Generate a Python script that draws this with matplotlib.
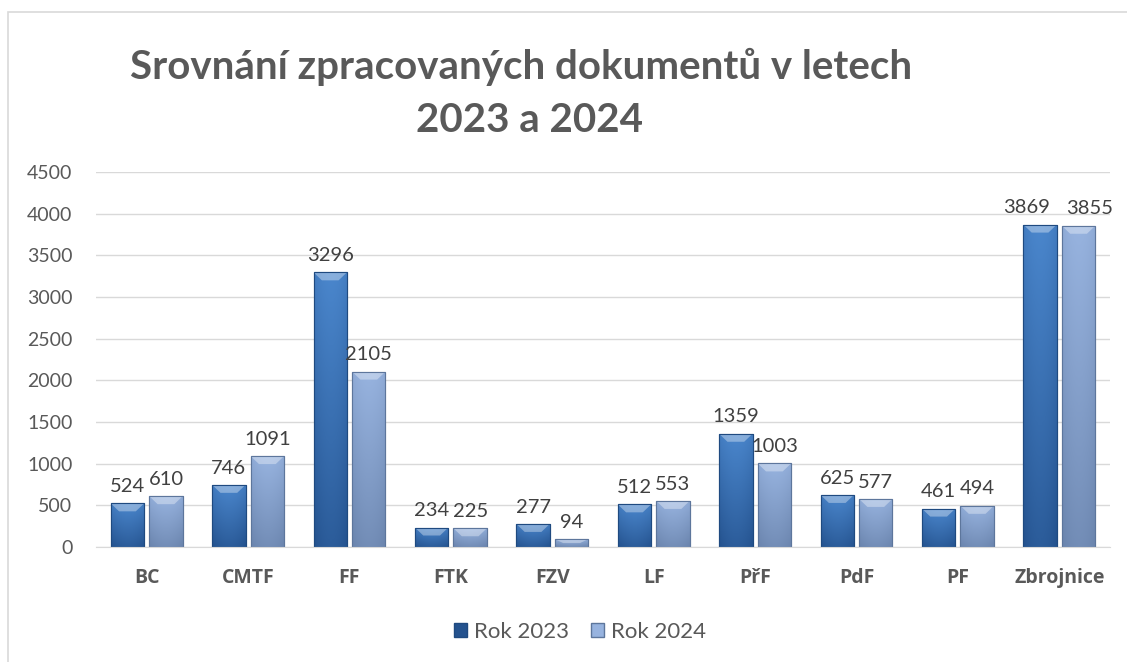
import matplotlib
matplotlib.use("Agg")
import matplotlib.pyplot as plt
import numpy as np
from matplotlib.colors import LinearSegmentedColormap
from matplotlib.patches import Patch, Polygon, Rectangle

# data
categories = ["BC", "CMTF", "FF", "FTK", "FZV", "LF", "PřF", "PdF", "PF", "Zbrojnice"]
rok_2023 = [524, 746, 3296, 234, 277, 512, 1359, 625, 461, 3869]
rok_2024 = [610, 1091, 2105, 225, 94, 553, 1003, 577, 494, 3855]
series_names = ["Rok 2023", "Rok 2024"]
y_ticks = [0, 500, 1000, 1500, 2000, 2500, 3000, 3500, 4000, 4500]

plt.rcParams['font.family'] = ['Lato', 'DejaVu Sans']

fig = plt.figure(figsize=(11.27, 6.62), dpi=100)
ax = fig.add_axes([96 / 1127, 115 / 662, 1014 / 1127, 375 / 662])

# chart frame (light grey border, left + top)
fig.patches.append(Rectangle((8 / 1127, -0.2), 1.2, 1.2 - 12 / 662,
                             transform=fig.transFigure, fill=False,
                             edgecolor="#d9d9d9", lw=1.2, zorder=0))

x = np.arange(len(categories))
w = 0.33
gap = 0.05

# colours: (top, bottom, edge)
styles = [
    ("#4a86cc", "#24528e", "#1f4a80"),
    ("#97b3df", "#6a84ad", "#5d769c"),
]

# gradient image, darker at edges and bottom
gy = np.linspace(0, 1, 64)[:, None]
gx = np.linspace(-1, 1, 32)[None, :]
grad = gy * 0.8 + 0.2 * (1 - gx ** 2)

bevel_px = 8
px_per_unit = 375 / 4500
bevel = bevel_px / px_per_unit

# labels that Excel pushed sideways so they do not collide (points)
label_dx = {("Zbrojnice", 0): -10, ("Zbrojnice", 1): 8}

for i, (vals, (ctop, cbot, cedge)) in enumerate(zip([rok_2023, rok_2024], styles)):
    offs = (-w / 2 - gap / 2) if i == 0 else (w / 2 + gap / 2)
    bars = ax.bar(x + offs, vals, width=w, color=cbot, edgecolor=cedge,
                  linewidth=0.8, zorder=2)
    cmap = LinearSegmentedColormap.from_list("g%d" % i, [cbot, ctop])
    for cat, b, v in zip(categories, bars, vals):
        x0 = b.get_x()
        x1 = x0 + b.get_width()
        im = ax.imshow(grad, extent=[x0, x1, 0, v], origin="lower", aspect="auto",
                       cmap=cmap, vmin=0, vmax=1, zorder=2.1)
        im.set_clip_path(b)
        # top bevel highlight
        bh = min(bevel, v * 0.5)
        bw = b.get_width() * 0.25
        ax.add_patch(Polygon([(x0, v), (x1, v), (x1 - bw, v - bh), (x0 + bw, v - bh)],
                             closed=True, facecolor="white", alpha=0.35,
                             edgecolor="none", zorder=2.2))
        ax.add_patch(Rectangle((x0, 0), b.get_width(), v, fill=False,
                               edgecolor=cedge, lw=0.8, zorder=2.3))
        ax.annotate(str(v), (b.get_x() + b.get_width() / 2, v),
                    xytext=(label_dx.get((cat, i), 0), 6), textcoords="offset points",
                    ha="center", va="bottom", fontsize=14.5, color="#404040")

ax.set_xlim(-0.5, len(categories) - 0.5)
ax.set_ylim(0, 4500)
ax.set_yticks(y_ticks)
ax.set_yticklabels([str(t) for t in y_ticks])
ax.yaxis.grid(True, color="#d9d9d9", lw=1)
ax.set_axisbelow(True)
ax.set_xticks(x)
ax.set_xticklabels(categories, fontweight="bold", family=["Open Sans", "DejaVu Sans"])
for s in ["top", "right", "left"]:
    ax.spines[s].set_visible(False)
ax.spines["bottom"].set_color("#d9d9d9")
ax.tick_params(axis="y", length=0, labelsize=14, labelcolor="#595959", pad=17)
ax.tick_params(axis="x", length=0, labelsize=14, labelcolor="#595959", pad=15)

fig.text(521 / 1127, 1 - 67 / 662, "Srovnání zpracovaných dokumentů v letech",
         ha="center", va="center", fontsize=29, fontweight="bold", color="#595959")
fig.text(529 / 1127, 1 - 121 / 662, "2023 a 2024",
         ha="center", va="center", fontsize=29, fontweight="bold", color="#595959")

handles = [Patch(facecolor=styles[0][1], edgecolor=styles[0][2]),
           Patch(facecolor=styles[1][0], edgecolor=styles[1][2])]
fig.legend(handles, series_names, loc="center", bbox_to_anchor=(580 / 1127, 1 - 632 / 662),
           ncol=2, frameon=False, fontsize=16, labelcolor="#595959",
           handlelength=0.6, handleheight=0.6, handletextpad=0.3, columnspacing=1.0)

fig.savefig("out.png", dpi=100)
